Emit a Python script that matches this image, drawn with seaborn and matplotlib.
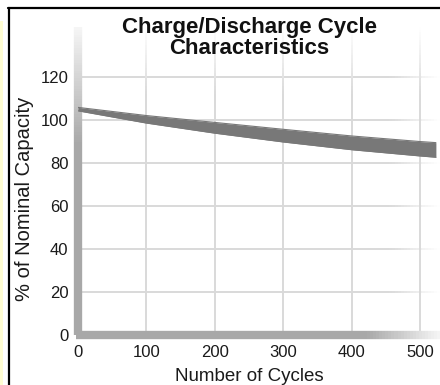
import numpy as np
import matplotlib
matplotlib.use("Agg")
import matplotlib.pyplot as plt
from matplotlib.collections import LineCollection
from matplotlib.lines import Line2D
from matplotlib.patches import Rectangle
import matplotlib.colors as mcolors
import seaborn as sns
import pandas as pd

# capacity band (upper and lower bound) versus cycle count
cycles = [0, 100, 200, 300, 400, 500, 523]
capacity_upper = [105.9, 102.1, 98.9, 95.7, 92.6, 90.0, 89.5]
capacity_lower = [104.3, 98.6, 93.9, 89.8, 86.2, 83.3, 82.7]

x_ticks = [0, 100, 200, 300, 400, 500]
y_ticks = [0, 20, 40, 60, 80, 100, 120]

title = "Charge/Discharge Cycle\nCharacteristics"
x_label = "Number of Cycles"
y_label = "% of Nominal Capacity"

sns.set_theme(style="white")
plt.rcParams["font.family"] = ["Liberation Sans", "DejaVu Sans"]

W, H = 440, 385
fig = plt.figure(figsize=(W / 100, H / 100), dpi=100)
ax = fig.add_axes([78 / W, 1 - 335 / H, (W - 78) / W, 308 / H])
XMAX, YMAX = 529.0, 143.3
ax.set_xlim(0, XMAX)
ax.set_ylim(0, YMAX)
for s in ax.spines.values():
    s.set_visible(False)


def gradient_line(ax, p0, p1, colors_at, lw, z, n=120, clip=False):
    """Draw a straight line whose colour varies along its length."""
    t = np.linspace(0, 1, n + 1)
    xs = p0[0] + (p1[0] - p0[0]) * t
    ys = p0[1] + (p1[1] - p0[1]) * t
    segs = [[(xs[i], ys[i]), (xs[i + 1], ys[i + 1])] for i in range(n)]
    tm = (t[:-1] + t[1:]) / 2
    cols = [colors_at(v) for v in tm]
    lc = LineCollection(segs, colors=cols, linewidths=lw, zorder=z,
                        capstyle="butt", clip_on=clip)
    ax.add_collection(lc)


def fade(c_full, c_end, start):
    a = np.array(mcolors.to_rgb(c_full))
    b = np.array(mcolors.to_rgb(c_end))

    def f(v):
        if v <= start:
            return tuple(a)
        k = (v - start) / (1 - start)
        return tuple(a + (b - a) * k)
    return f


grid_c = "#d9d9d9"
# horizontal grid lines, fading near the right edge
for yv in y_ticks[1:]:
    gradient_line(ax, (0, yv), (XMAX, yv), fade(grid_c, "#ffffff", 0.86), 1.4, 1)
# vertical grid lines, fading near the top
for xv in x_ticks[1:]:
    gradient_line(ax, (xv, 0), (xv, YMAX), fade(grid_c, "#ffffff", 0.78), 1.4, 1)

# axis bars
gradient_line(ax, (0, 0), (0, YMAX), fade("#a8a8a8", "#f6f6f6", 0.62), 6.0, 3)
gradient_line(ax, (-3, 0), (XMAX, 0), fade("#a8a8a8", "#f6f6f6", 0.8), 6.0, 3)

df = pd.DataFrame({"cycles": cycles, "upper": capacity_upper, "lower": capacity_lower})
band_c = "#787878"
sns.lineplot(data=df, x="cycles", y="upper", ax=ax, color=band_c, lw=0.8, zorder=4)
sns.lineplot(data=df, x="cycles", y="lower", ax=ax, color=band_c, lw=0.8, zorder=4)
ax.fill_between(df["cycles"], df["lower"], df["upper"], color=band_c, lw=0, zorder=4)

ax.set_xticks(x_ticks)
ax.set_yticks(y_ticks)
ax.tick_params(length=0, labelsize=12, labelcolor="#1a1a1a")
ax.tick_params(axis="x", pad=7)
ax.tick_params(axis="y", pad=7)
ax.set_xlabel(x_label, fontsize=13.5, color="#1a1a1a")
ax.set_ylabel(y_label, fontsize=14.5, color="#1a1a1a")
ax.xaxis.set_label_coords(250 / XMAX, -0.106)
ax.yaxis.set_label_coords(-0.122, 63.5 / YMAX)

fig.text(249 / W, 1 - 17 / H, title, ha="center", va="top", fontsize=16,
         fontweight="bold", color="#111111", linespacing=1.0)

# frame lines and side strip
fig.add_artist(Line2D([8 / W, 1], [1 - 8 / H, 1 - 8 / H], color="black", lw=1.6,
                      transform=fig.transFigure))
fig.add_artist(Line2D([9 / W, 9 / W], [0, 1 - 7.5 / H], color="black", lw=1.6,
                      transform=fig.transFigure))
fig.add_artist(Rectangle((0, 0), 2.5 / W, 1 - 21 / H, color="#fffdd2",
                         transform=fig.transFigure, lw=0))

fig.savefig("out.png", dpi=100)
